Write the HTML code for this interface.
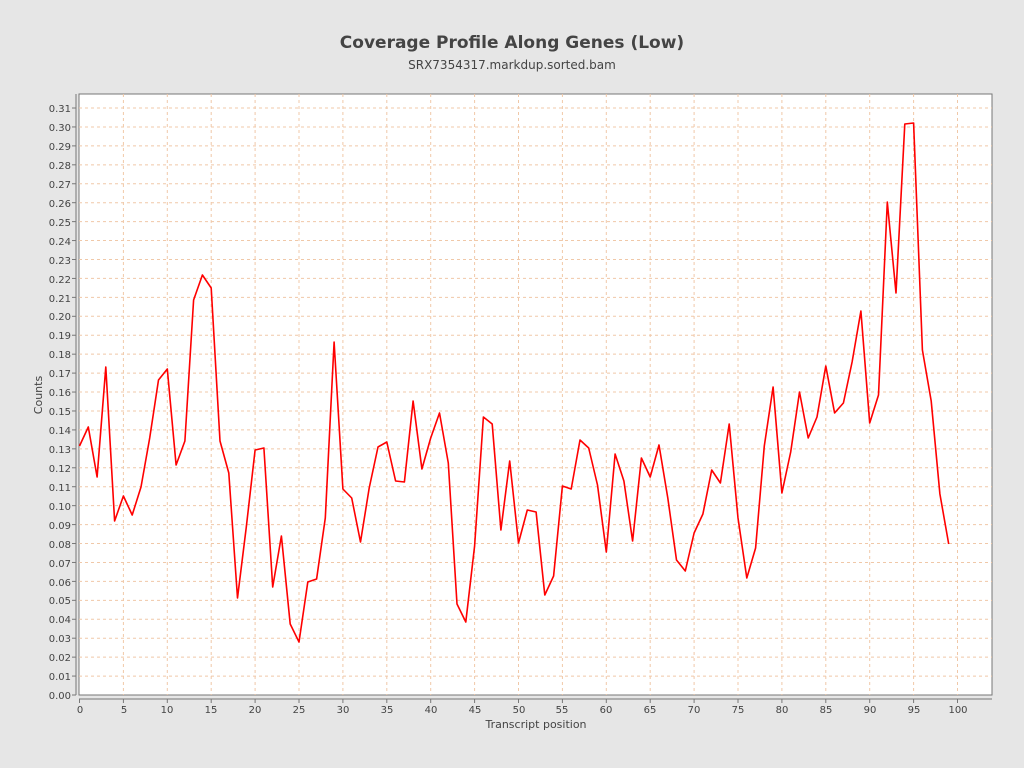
<!DOCTYPE html>
<html><head><meta charset="utf-8"><style>
body{margin:0;background:#e6e6e6;}
svg{display:block;font-family:"DejaVu Sans","Liberation Sans",sans-serif;}
</style></head><body>
<svg width="1024" height="768" xmlns="http://www.w3.org/2000/svg">
<rect width="1024" height="768" fill="#e6e6e6"/>
<text x="512" y="48" text-anchor="middle" font-size="17" font-weight="bold" fill="#444">Coverage Profile Along Genes (Low)</text>
<text x="512" y="69" text-anchor="middle" font-size="12" fill="#444">SRX7354317.markdup.sorted.bam</text>
<rect x="79" y="94" width="913" height="601" fill="#fff" stroke="#777" stroke-width="1"/>
<g id="grid" stroke="#f0c8a8" stroke-width="1" stroke-dasharray="3,3"></g>
<line x1="76" y1="94" x2="76" y2="695" stroke="#777"/>
<line x1="79" y1="699" x2="992" y2="699" stroke="#777"/>
<g id="ticks" stroke="#777"></g>
<g font-size="10" fill="#444" text-anchor="end">
<text x="71" y="699">0.00</text><text x="71" y="680">0.01</text><text x="71" y="661">0.02</text><text x="71" y="642">0.03</text><text x="71" y="623">0.04</text><text x="71" y="604">0.05</text><text x="71" y="586">0.06</text><text x="71" y="567">0.07</text><text x="71" y="548">0.08</text><text x="71" y="529">0.09</text><text x="71" y="510">0.10</text><text x="71" y="491">0.11</text><text x="71" y="472">0.12</text><text x="71" y="453">0.13</text><text x="71" y="434">0.14</text><text x="71" y="415">0.15</text><text x="71" y="396">0.16</text><text x="71" y="377">0.17</text><text x="71" y="358">0.18</text><text x="71" y="339">0.19</text><text x="71" y="320">0.20</text><text x="71" y="302">0.21</text><text x="71" y="283">0.22</text><text x="71" y="264">0.23</text><text x="71" y="245">0.24</text><text x="71" y="226">0.25</text><text x="71" y="207">0.26</text><text x="71" y="188">0.27</text><text x="71" y="169">0.28</text><text x="71" y="150">0.29</text><text x="71" y="131">0.30</text><text x="71" y="112">0.31</text>
</g>
<g font-size="10" fill="#444" text-anchor="middle">
<text x="80" y="713">0</text><text x="124" y="713">5</text><text x="167" y="713">10</text><text x="211" y="713">15</text><text x="255" y="713">20</text><text x="299" y="713">25</text><text x="343" y="713">30</text><text x="387" y="713">35</text><text x="431" y="713">40</text><text x="475" y="713">45</text><text x="519" y="713">50</text><text x="562" y="713">55</text><text x="606" y="713">60</text><text x="650" y="713">65</text><text x="694" y="713">70</text><text x="738" y="713">75</text><text x="782" y="713">80</text><text x="826" y="713">85</text><text x="870" y="713">90</text><text x="914" y="713">95</text><text x="958" y="713">100</text>
</g>
<text x="536" y="728" text-anchor="middle" font-size="11" fill="#444">Transcript position</text>
<text transform="translate(42,395) rotate(-90)" text-anchor="middle" font-size="11" fill="#444">Counts</text>
<polyline id="line" fill="none" stroke="#ff0000" stroke-width="1.6" stroke-linejoin="round"/>
</svg>
<script>
var ns="http://www.w3.org/2000/svg";
var g=document.getElementById('grid'),t=document.getElementById('ticks');
function L(p,a){var l=document.createElementNS(ns,'line');for(var k in a)l.setAttribute(k,a[k]);p.appendChild(l);}
for(var i=0;i<=31;i++){var y=695-i*18.935;if(i>0)L(g,{x1:79,x2:992,y1:y,y2:y});L(t,{x1:72,x2:76,y1:y,y2:y});}
for(var i=0;i<=100;i+=5){var x=79.5+i*8.78;if(i>0)L(g,{x1:x,x2:x,y1:94,y2:695});L(t,{x1:x,x2:x,y1:699,y2:703});}
var ys=[446,427,477,367,521,496,515,487,438,380,369,465,441,300,275,288,441,473,598,527,450,448,587,536,624,642,582,579,518,342,489,498,542,488,447,442,481,482,401,469,438,413,463,604,622,546,417,424,530,461,543,510,512,595,576,486,489,440,448,485,552,454,481,541,458,477,445,498,560,571,533,514,470,483,424,518,578,548,446,387,493,452,392,438,417,366,413,403,362,311,423,395,202,293,124,123,350,401,494,544];
document.getElementById('line').setAttribute('points',ys.map(function(y,i){return (79.5+i*8.78).toFixed(1)+','+y}).join(' '));
</script>
</body></html>
